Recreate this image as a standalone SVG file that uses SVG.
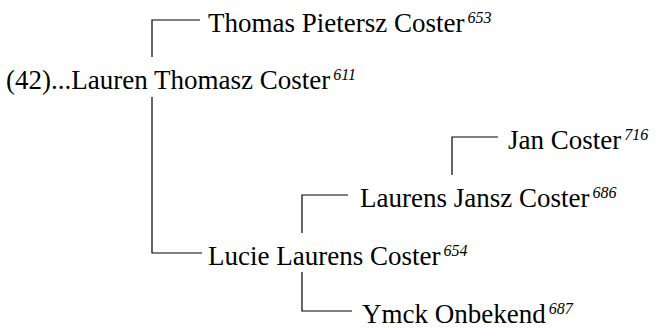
<svg xmlns="http://www.w3.org/2000/svg" width="656" height="328" viewBox="0 0 656 328">
<style>
text{font-family:'Liberation Serif','Times New Roman',serif;font-size:27px;fill:#000}
.s{font-size:16px;font-style:italic}
.c{fill:none;stroke:#000;stroke-width:1.2}
</style>
<rect width="656" height="328" fill="#fff"/>
<g id="connectors">
<path class="c" d="M152,57V20H200"/>
<path class="c" d="M152,97V253H202"/>
<path class="c" d="M302,233V195H348"/>
<path class="c" d="M302,272V311H352"/>
<path class="c" d="M452,175V137H498"/>
</g>
<g id="n611"><text x="6" y="89">(42)...Lauren Thomasz Coster<tspan class="s" dx="3" dy="-9">611</tspan></text></g>
<g id="n653"><text x="208" y="32">Thomas Pietersz Coster<tspan class="s" dx="3" dy="-9">653</tspan></text></g>
<g id="n654"><text x="208" y="265">Lucie Laurens Coster<tspan class="s" dx="3" dy="-9">654</tspan></text></g>
<g id="n686"><text x="360" y="207">Laurens Jansz Coster<tspan class="s" dx="3" dy="-9">686</tspan></text></g>
<g id="n716"><text x="508" y="149">Jan Coster<tspan class="s" dx="3" dy="-9">716</tspan></text></g>
<g id="n687"><text x="362" y="323">Ymck Onbekend<tspan class="s" dx="3" dy="-9">687</tspan></text></g>
</svg>
